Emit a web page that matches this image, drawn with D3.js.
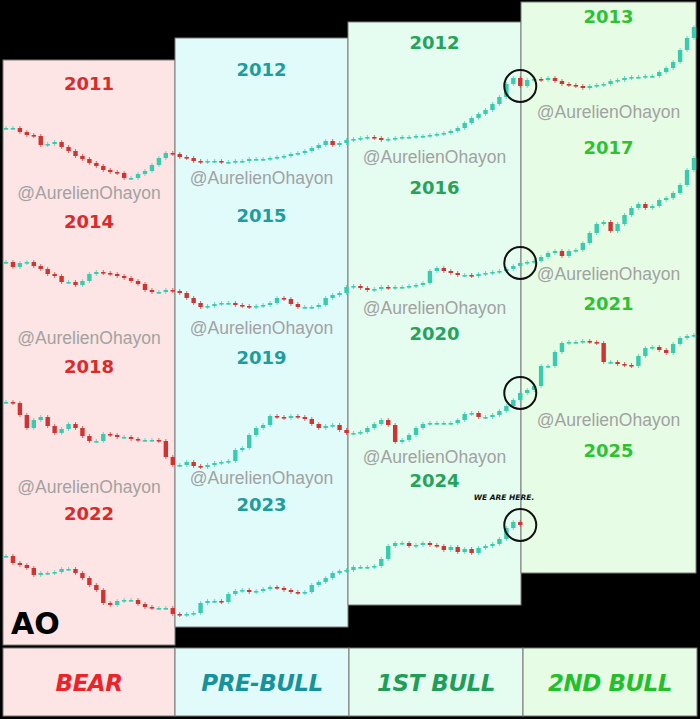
<!DOCTYPE html>
<html><head><meta charset="utf-8">
<script src="https://cdn.jsdelivr.net/npm/d3@7"></script>
<style>html,body{margin:0;padding:0;background:#000;}svg{display:block}</style>
</head><body>
<svg id="chart" width="700" height="719"></svg>
<script>
// ---------- DATA ----------
const phases = ["BEAR", "PRE-BULL", "1ST BULL", "2ND BULL"];
const yearLabels = [
  ["2011", "2012", "2012", "2013"],
  ["2014", "2015", "2016", "2017"],
  ["2018", "2019", "2020", "2021"],
  ["2022", "2023", "2024", "2025"]
];
const watermark = "@AurelienOhayon";
// closes (price index) per cycle, one candle per step
const cycle1 = [57,57,53,50,49,40,41,43,38,34,29,26,22,19,15,13,12,7,7,11,14,20,27,32,31,28,27,24,23,24,24,23,23,24,24,26,26,26,27,28,29,31,32,34,37,40,44,40,42,45,46,47,48,47,45,46,47,48,48,49,49,50,51,52,54,57,62,67,71,75,81,88,101,107,99,105,106,105,107,104,101,100,99,97,99,100,101,104,105,107,108,108,109,109,113,117,123,135,147,158];
const cycle2 = [48,43,47,48,44,41,36,34,28,28,25,29,36,38,37,36,34,32,29,26,20,18,18,20,19,17,12,7,3,4,6,7,7,5,4,3,4,5,7,12,11,6,3,3,3,5,12,15,17,23,24,22,20,21,23,22,23,23,24,25,27,39,42,39,37,35,35,34,36,37,38,39,41,44,47,48,49,53,57,59,54,59,60,67,77,86,88,79,86,95,102,106,102,104,110,112,117,125,140,152];
const cycle3 = [73,72,60,47,55,58,49,42,46,51,47,39,34,34,41,40,38,38,36,35,35,35,34,18,10,10,13,9,8,10,12,13,14,25,27,40,47,50,59,58,57,59,58,56,51,47,49,50,45,42,42,43,47,51,55,50,33,35,40,47,51,52,52,52,52,55,61,62,58,58,60,64,69,75,82,85,89,109,109,123,132,133,133,134,133,132,113,113,111,110,109,119,127,128,125,122,131,137,139,140];
const cycle4 = [64,57,55,52,45,47,47,48,51,51,47,42,35,30,17,15,19,20,20,16,13,12,12,12,6,5,6,7,17,19,19,18,26,29,30,28,29,31,33,32,30,28,27,28,35,38,42,47,49,50,53,53,53,54,61,74,77,77,74,75,77,75,74,70,73,68,71,67,72,74,76,81,92,98,95];
const cycles = [cycle1, cycle2, cycle3, cycle4];
const candlesPerCycle = 100;
const markerIndex = 74; // candle circled in each cycle

// ---------- LAYOUT / STYLE ----------
const W = 700, H = 719;
const panelX = [3, 175, 348, 521, 696];
const panelTop = [60, 38, 22, 2];
const panelBottom = [645, 627, 605, 573];
const panelFill = ["#fde5e5", "#e1fbfb", "#e5fcf0", "#e7fce5"];
const phaseText = ["#ea2428", "#17929c", "#1f9e5a", "#22c02a"];
const yearText = ["#d92b2b", "#1f9c9c", "#25a35a", "#2ec232"];
const rowBase = [185, 310, 475, 620];
const yearY = [[84,70,43,17],[222,216,188,148],[367,358,334,304],[514,505,481,451]];
const wmY = [[193,178,157,112],[338,328,308,274],[487,478,457,420]];
const up = "#38cbb0", down = "#cf3430";
const heavy = "'DejaVu Sans', Verdana, sans-serif";

const svg = d3.select("#chart");
svg.append("rect").attr("width", W).attr("height", H).attr("fill", "#000");

// panels
const g = svg.append("g");
phases.forEach((p, i) => {
  g.append("rect")
    .attr("x", panelX[i]).attr("y", panelTop[i])
    .attr("width", panelX[i + 1] - panelX[i]).attr("height", panelBottom[i] - panelTop[i])
    .attr("fill", panelFill[i]).attr("stroke", "#7a7a7a").attr("stroke-width", 1);
});

const x = d3.scaleLinear().domain([0, candlesPerCycle - 1]).range([6, 694]);

// watermarks & year labels
yearLabels.forEach((row, r) => {
  row.forEach((lab, c) => {
    const cx = (panelX[c] + panelX[c + 1]) / 2;
    g.append("text").attr("x", cx).attr("y", yearY[r][c]).attr("dy", "0.36em")
      .attr("text-anchor", "middle")
      .attr("font-family", heavy).attr("font-weight", "bold")
      .attr("font-size", 18).attr("fill", yearText[c]).text(lab);
    if (wmY[r]) {
      g.append("text").attr("x", cx).attr("y", wmY[r][c]).attr("dy", "0.35em")
        .attr("text-anchor", "middle")
        .attr("font-family", "'Liberation Sans', Arial, sans-serif")
        .attr("font-size", 17.5).attr("fill", "#a2a2a2").text(watermark);
    }
  });
});

// candles
cycles.forEach((data, r) => {
  const y = d3.scaleLinear().domain([0, 100]).range([rowBase[r], rowBase[r] - 100]);
  const candles = data.map((c, i) => ({ i, open: i === 0 ? c : data[i - 1], close: c }));
  const cg = g.append("g");
  cg.selectAll("line").data(candles).join("line")
    .attr("x1", d => x(d.i)).attr("x2", d => x(d.i))
    .attr("y1", d => y(Math.max(d.open, d.close)) - 2)
    .attr("y2", d => y(Math.min(d.open, d.close)) + 2)
    .attr("stroke", d => d.close >= d.open ? up : down).attr("stroke-width", 1).attr("opacity", 0.7);
  cg.selectAll("rect").data(candles).join("rect")
    .attr("x", d => x(d.i) - 2.2).attr("width", 4.4)
    .attr("y", d => y(Math.max(d.open, d.close)))
    .attr("height", d => Math.max(1.6, Math.abs(y(d.open) - y(d.close))))
    .attr("fill", d => d.close >= d.open ? up : down);
  if (data.length > markerIndex) {
    g.append("circle").attr("cx", x(markerIndex)).attr("cy", y(data[markerIndex]))
      .attr("r", 16).attr("fill", "none").attr("stroke", "#111").attr("stroke-width", 2);
  }
});

// "WE ARE HERE."
g.append("text").attr("x", 504).attr("y", 497).attr("dy", "0.35em").attr("text-anchor", "middle")
  .attr("font-family", heavy).attr("font-weight", "bold")
  .attr("font-style", "italic").attr("font-size", 7.5).attr("fill", "#111").text("WE ARE HERE.");

// AO
g.append("text").attr("x", 11).attr("y", 634)
  .attr("font-family", heavy).attr("font-weight", "bold")
  .attr("font-size", 30).attr("fill", "#000").text("AO");

// legend
const legTop = 648, legBot = 716;
const legX = [3, 175, 349, 523, 697];
phases.forEach((p, i) => {
  svg.append("rect").attr("x", legX[i]).attr("y", legTop)
    .attr("width", legX[i + 1] - legX[i]).attr("height", legBot - legTop)
    .attr("fill", panelFill[i]).attr("stroke", "#777").attr("stroke-width", 1);
  svg.append("text").attr("x", (legX[i] + legX[i + 1]) / 2).attr("y", 683).attr("dy", "0.36em")
    .attr("text-anchor", "middle")
    .attr("font-family", heavy).attr("font-weight", "bold")
    .attr("font-style", "italic").attr("font-size", 23).attr("letter-spacing", -0.5)
    .attr("fill", phaseText[i]).text(p);
});
</script>
</body></html>
